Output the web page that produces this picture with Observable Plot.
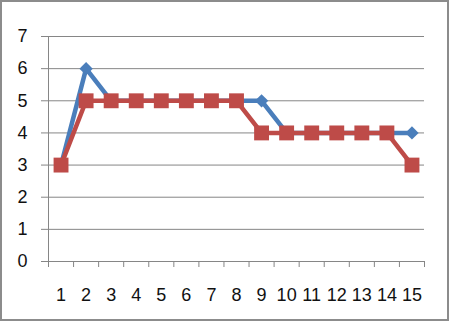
<!DOCTYPE html>
<html>
<head>
<meta charset="utf-8">
<script src="https://cdn.jsdelivr.net/npm/d3@7"></script>
<script src="https://cdn.jsdelivr.net/npm/@observablehq/plot@0.6"></script>
<style>
  html, body { margin: 0; padding: 0; background: #fff; }
  #chart svg { display: block; outline: 2px solid #8c8c8c; outline-offset: -2px; }
</style>
</head>
<body>
<div id="chart"></div>
<script>
const categories = [1, 2, 3, 4, 5, 6, 7, 8, 9, 10, 11, 12, 13, 14, 15];
const series1 = [3, 6, 5, 5, 5, 5, 5, 5, 5, 4, 4, 4, 4, 4, 4];
const series2 = [3, 5, 5, 5, 5, 5, 5, 5, 4, 4, 4, 4, 4, 4, 3];
const yTicks = [0, 1, 2, 3, 4, 5, 6, 7];

const blue = "#4a7ebb";
const red = "#be4b48";
const grid = "#868686";

const d1 = categories.map((c, i) => ({x: c, y: series1[i]}));
const d2 = categories.map((c, i) => ({x: c, y: series2[i]}));
const boundaries = [categories[0] - 0.5, ...categories.map(c => c + 0.5)];

const chart = Plot.plot({
  width: 449,
  height: 321,
  marginLeft: 48,
  marginRight: 25,
  marginTop: 36,
  marginBottom: 60,
  x: {domain: [categories[0] - 0.5, categories[categories.length - 1] + 0.5]},
  y: {domain: [0, 7]},
  style: {fontFamily: "'Liberation Sans', Arial, sans-serif", fontSize: "18px", color: "#111", background: "#fff", overflow: "visible"},
  marks: [
    Plot.ruleY(yTicks, {stroke: grid, strokeWidth: 1, insetLeft: -7}),
    Plot.frame({anchor: "left", stroke: grid}),
    Plot.axisX({ticks: boundaries, tickSize: 6, stroke: grid, tickFormat: () => "", label: null}),
    Plot.axisX({ticks: categories, tickSize: 0, tickPadding: 27, tickFormat: d => String(d), label: null, fill: "#111"}),
    Plot.axisY({ticks: yTicks, tickSize: 0, tickPadding: 21, tickFormat: d => String(d), label: null, fill: "#111"}),
    Plot.line(d1, {x: "x", y: "y", stroke: blue, strokeWidth: 4.5, strokeLinejoin: "round"}),
    Plot.dot(d1, {x: "x", y: "y", symbol: "diamond2", r: 6, fill: blue, stroke: "none"}),
    Plot.line(d2, {x: "x", y: "y", stroke: red, strokeWidth: 4.5, strokeLinejoin: "round"}),
    Plot.dot(d2, {x: "x", y: "y", symbol: "square", r: 8.4, fill: red, stroke: "none"})
  ]
});
document.getElementById("chart").append(chart);
</script>
</body>
</html>
